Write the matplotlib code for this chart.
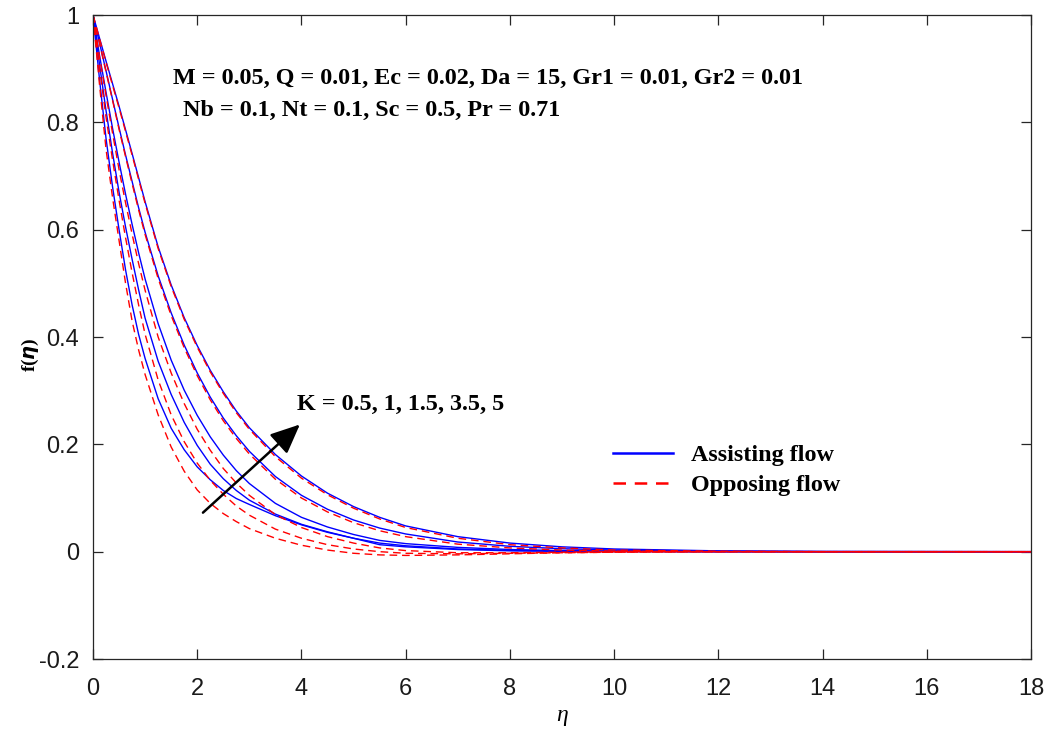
import matplotlib
matplotlib.use("Agg")
import matplotlib.pyplot as plt
from matplotlib.lines import Line2D

# Similarity coordinate
eta = [0, 0.125, 0.25, 0.375, 0.5, 0.625, 0.75, 0.875, 1.0, 1.25, 1.5, 1.75, 2.0, 2.25,
       2.5, 2.75, 3.0, 3.5, 4.0, 4.5, 5.0, 5.5, 6.0, 7.0, 8.0, 9.0, 10.0, 12.0, 14.0, 18.0]

K_values = [0.5, 1, 1.5, 3.5, 5]

# Assisting flow profiles f(eta), one list per K
assist_K05 = [1.0, 0.88, 0.77, 0.68, 0.60, 0.525, 0.46, 0.405, 0.36, 0.285, 0.23, 0.19, 0.158,
              0.134, 0.114, 0.099, 0.088, 0.067, 0.050, 0.036, 0.025, 0.013, 0.009, 0.004,
              0.0015, 0.0005, 0.0, 0.0, 0.0, 0.0]
assist_K1 = [1.0, 0.908, 0.822, 0.743, 0.67, 0.605, 0.545, 0.488, 0.435, 0.355, 0.293, 0.241,
             0.198, 0.163, 0.136, 0.114, 0.096, 0.070, 0.051, 0.037, 0.025, 0.016, 0.011,
             0.005, 0.0025, 0.0012, 0.0006, 0.0, 0.0, 0.0]
assist_K15 = [1.0, 0.925, 0.856, 0.789, 0.726, 0.666, 0.61, 0.557, 0.508, 0.425, 0.357, 0.301,
              0.254, 0.214, 0.180, 0.151, 0.127, 0.090, 0.064, 0.046, 0.032, 0.021, 0.015,
              0.008, 0.004, 0.002, 0.001, 0.0, 0.0, 0.0]
assist_K35 = [1.0, 0.948, 0.896, 0.843, 0.79, 0.739, 0.69, 0.641, 0.595, 0.514, 0.445, 0.385,
              0.333, 0.288, 0.249, 0.216, 0.187, 0.140, 0.105, 0.079, 0.059, 0.044, 0.033,
              0.018, 0.010, 0.0055, 0.003, 0.001, 0.0, 0.0]
assist_K5 = [1.0, 0.957, 0.914, 0.872, 0.83, 0.786, 0.742, 0.697, 0.652, 0.568, 0.497, 0.436,
             0.384, 0.338, 0.298, 0.262, 0.231, 0.181, 0.141, 0.109, 0.084, 0.064, 0.048,
             0.028, 0.016, 0.009, 0.005, 0.0015, 0.0005, 0.0]

# Opposing flow profiles f(eta), one list per K
oppose_K05 = [1.0, 0.87, 0.75, 0.66, 0.58, 0.50, 0.43, 0.376, 0.33, 0.255, 0.195, 0.15, 0.115,
              0.090, 0.071, 0.056, 0.043, 0.025, 0.012, 0.003, -0.003, -0.006, -0.007, -0.006,
              -0.004, -0.002, -0.001, 0.0, 0.0, 0.0]
oppose_K1 = [1.0, 0.90, 0.81, 0.73, 0.655, 0.585, 0.52, 0.46, 0.405, 0.32, 0.255, 0.205, 0.165,
             0.133, 0.107, 0.085, 0.068, 0.042, 0.025, 0.013, 0.005, 0.0, -0.003, -0.004,
             -0.003, -0.002, -0.001, 0.0, 0.0, 0.0]
oppose_K15 = [1.0, 0.922, 0.85, 0.78, 0.712, 0.65, 0.592, 0.537, 0.487, 0.40, 0.333, 0.276,
              0.228, 0.189, 0.155, 0.128, 0.105, 0.069, 0.045, 0.028, 0.016, 0.007, 0.002,
              -0.002, -0.002, -0.001, 0.0, 0.0, 0.0, 0.0]
oppose_K35 = [1.0, 0.947, 0.894, 0.841, 0.787, 0.736, 0.686, 0.637, 0.591, 0.509, 0.44, 0.38,
              0.328, 0.283, 0.244, 0.211, 0.182, 0.135, 0.100, 0.074, 0.054, 0.039, 0.028,
              0.014, 0.007, 0.003, 0.001, 0.0, 0.0, 0.0]
oppose_K5 = [1.0, 0.956, 0.912, 0.869, 0.827, 0.783, 0.739, 0.694, 0.649, 0.565, 0.494, 0.433,
             0.381, 0.335, 0.295, 0.259, 0.228, 0.177, 0.137, 0.106, 0.081, 0.061, 0.045,
             0.025, 0.013, 0.007, 0.003, 0.0008, 0.0, 0.0]

assisting = [assist_K05, assist_K1, assist_K15, assist_K35, assist_K5]
opposing = [oppose_K05, oppose_K1, oppose_K15, oppose_K35, oppose_K5]

params_line1 = "M = 0.05, Q = 0.01, Ec = 0.02, Da = 15, Gr1 = 0.01, Gr2 = 0.01"
params_line2 = "Nb = 0.1, Nt = 0.1, Sc = 0.5, Pr = 0.71"
k_label = "K = 0.5, 1, 1.5, 3.5, 5"

plt.rcParams["font.family"] = ["Liberation Sans", "DejaVu Sans"]
plt.rcParams["mathtext.fontset"] = "custom"
plt.rcParams["mathtext.it"] = "Liberation Serif:italic"
plt.rcParams["mathtext.rm"] = "Liberation Serif"
plt.rcParams["mathtext.bf"] = "Liberation Serif:bold"

fig = plt.figure(figsize=(10.53, 7.38), dpi=100)
ax = fig.add_axes([93 / 1053, 1 - 659 / 738, (1031 - 93) / 1053, (659 - 15) / 738])

for ya in assisting:
    ax.plot(eta, ya, color="#0000ff", lw=1.0, solid_joinstyle="round")
for yo in opposing:
    ax.plot(eta, yo, color="#ff0000", lw=1.0, linestyle=(0, (5.5, 3.5)))

ax.set_xlim(0, 18)
ax.set_ylim(-0.2, 1.0)
ax.set_xticks(range(0, 19, 2))
ax.set_yticks([-0.2, 0, 0.2, 0.4, 0.6, 0.8, 1.0])
ax.set_yticklabels(["-0.2", "0", "0.2", "0.4", "0.6", "0.8", "1"])

edge = "#262626"
for s in ax.spines.values():
    s.set_color(edge)
    s.set_linewidth(0.9)
ax.tick_params(direction="in", length=7, width=0.9, color=edge, labelsize=17,
               top=True, right=True, labelcolor="#1a1a1a")
ax.tick_params(axis="x", pad=14)
ax.tick_params(axis="y", pad=10)

ax.set_xlabel(r"$\eta$", fontsize=17)
ax.xaxis.set_label_coords((562 - 93) / 938, -(706 - 659) / 644)
ax.set_ylabel(r"$\mathbf{f(}\boldsymbol{\eta}\mathbf{)}$", fontsize=14)
ax.yaxis.set_label_coords((41 - 93) / 938, (659 - 355) / 644)

serif_bold = dict(family="Liberation Serif", fontweight="bold", color="black")
ax.text(1.53, 0.882, params_line1, fontsize=17.4, va="center", ha="left", **serif_bold)
ax.text(1.73, 0.823, params_line2, fontsize=17.4, va="center", ha="left", **serif_bold)
ax.text(3.92, 0.274, k_label, fontsize=17.4, va="center", ha="left", **serif_bold)

ax.annotate("", xy=(3.97, 0.237), xytext=(2.11, 0.0727),
            arrowprops=dict(arrowstyle="-|>,head_length=1.8,head_width=0.8",
                            color="black", lw=1.8, shrinkA=0, shrinkB=0))

handles = [Line2D([], [], color="#0000ff", lw=1.8),
           Line2D([], [], color="#ff0000", lw=1.8, linestyle=(0, (5, 3.5)))]
leg = ax.legend(handles, ["Assisting flow", "Opposing flow"], frameon=False,
                loc="upper left", bbox_to_anchor=(0.531, 0.367), handlelength=2.48,
                handletextpad=0.74, labelspacing=0.32, borderpad=0.4,
                prop=dict(family="Liberation Serif", weight="bold", size=17.4))

fig.savefig("out.png", dpi=100)
